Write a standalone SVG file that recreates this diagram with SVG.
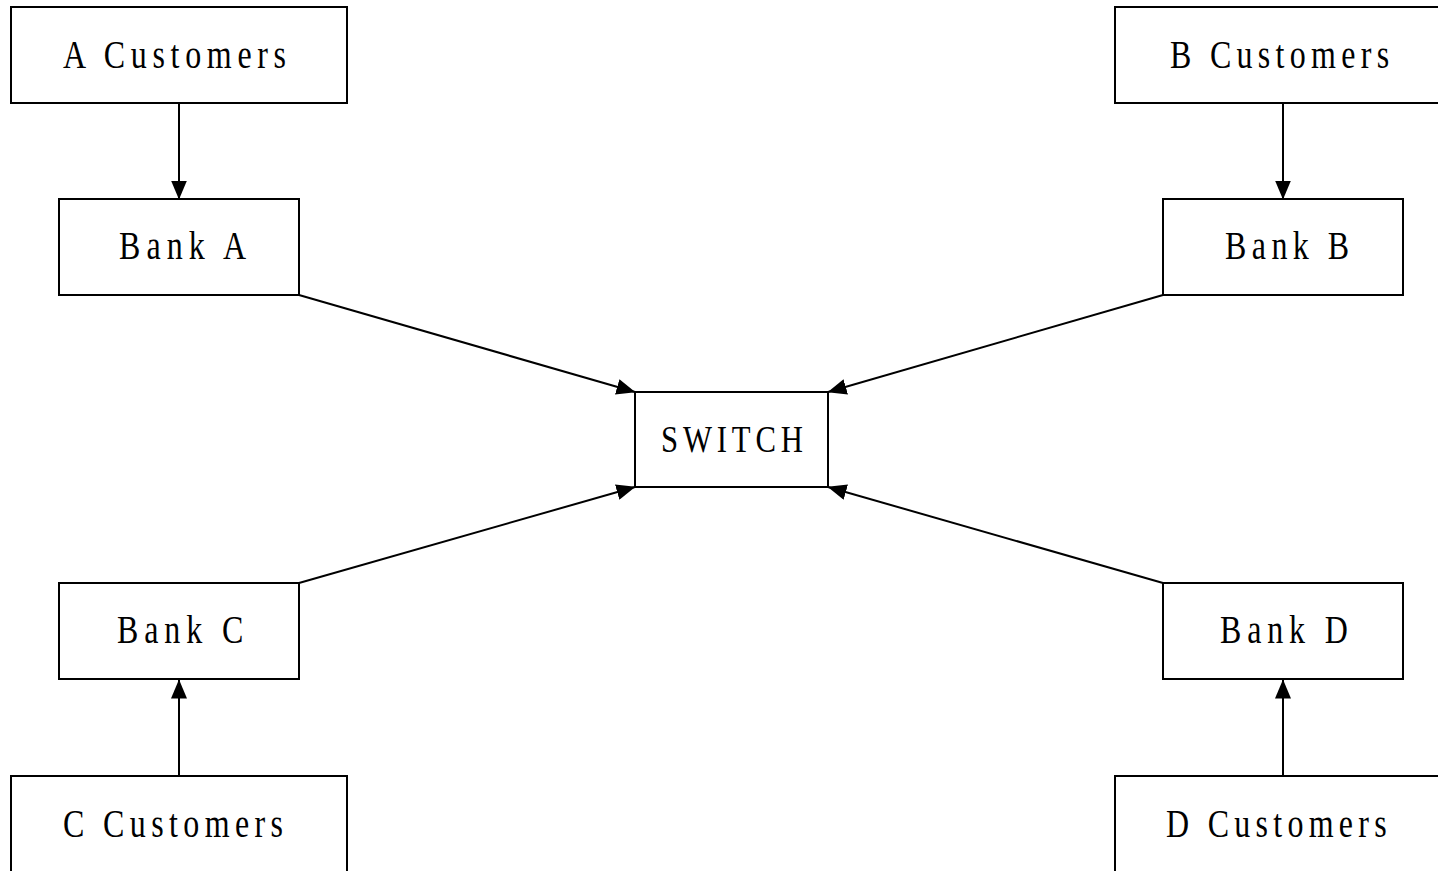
<svg xmlns="http://www.w3.org/2000/svg" width="1438" height="871" viewBox="0 0 1438 871">
<style>
.box{fill:#fff;stroke:#000;stroke-width:2}
.lbl{font-family:"Liberation Serif","Times New Roman",serif;font-size:41px;fill:#000}
.sw{font-size:37px}
.edge{stroke:#000;stroke-width:2;fill:none;marker-end:url(#ah)}
</style>
<defs>
<marker id="ah" markerUnits="userSpaceOnUse" markerWidth="19" markerHeight="16" viewBox="0 0 19 16" refX="18.5" refY="8" orient="auto">
<path d="M0,0 L19,8 L0,16 Z" fill="#000"/>
</marker>
</defs>
<rect width="1438" height="871" fill="#fff"/>
<g id="connectors">
<line class="edge" x1="179" y1="103" x2="179" y2="199"/>
<line class="edge" x1="1283" y1="103" x2="1283" y2="199"/>
<line class="edge" x1="179" y1="775" x2="179" y2="680"/>
<line class="edge" x1="1283" y1="775" x2="1283" y2="680"/>
<line class="edge" x1="299" y1="295" x2="635" y2="392"/>
<line class="edge" x1="1163" y1="295" x2="828" y2="392"/>
<line class="edge" x1="299" y1="583" x2="635" y2="487"/>
<line class="edge" x1="1163" y1="583" x2="828" y2="487"/>
</g>
<g id="a-customers">
<rect class="box" x="11" y="7" width="336" height="96"/>
<text class="lbl" transform="translate(63,68) scale(0.78,1)" textLength="286" lengthAdjust="spacing">A Customers</text>
</g>
<g id="b-customers">
<rect class="box" x="1115" y="7" width="340" height="96"/>
<text class="lbl" transform="translate(1170,68) scale(0.78,1)" textLength="281" lengthAdjust="spacing">B Customers</text>
</g>
<g id="bank-a">
<rect class="box" x="59" y="199" width="240" height="96"/>
<text class="lbl" transform="translate(119,259) scale(0.78,1)" textLength="163" lengthAdjust="spacing">Bank A</text>
</g>
<g id="bank-b">
<rect class="box" x="1163" y="199" width="240" height="96"/>
<text class="lbl" transform="translate(1225,259) scale(0.78,1)" textLength="159" lengthAdjust="spacing">Bank B</text>
</g>
<g id="switch">
<rect class="box" x="635" y="392" width="193" height="95"/>
<text class="lbl sw" transform="translate(661,452) scale(0.83,1)" textLength="171" lengthAdjust="spacing">SWITCH</text>
</g>
<g id="bank-c">
<rect class="box" x="59" y="583" width="240" height="96"/>
<text class="lbl" transform="translate(117,643) scale(0.78,1)" textLength="162" lengthAdjust="spacing">Bank C</text>
</g>
<g id="bank-d">
<rect class="box" x="1163" y="583" width="240" height="96"/>
<text class="lbl" transform="translate(1220,643) scale(0.78,1)" textLength="164" lengthAdjust="spacing">Bank D</text>
</g>
<g id="c-customers">
<rect class="box" x="11" y="776" width="336" height="100"/>
<text class="lbl" transform="translate(63,837) scale(0.78,1)" textLength="282" lengthAdjust="spacing">C Customers</text>
</g>
<g id="d-customers">
<rect class="box" x="1115" y="776" width="340" height="100"/>
<text class="lbl" transform="translate(1166,837) scale(0.78,1)" textLength="283" lengthAdjust="spacing">D Customers</text>
</g>
</svg>
